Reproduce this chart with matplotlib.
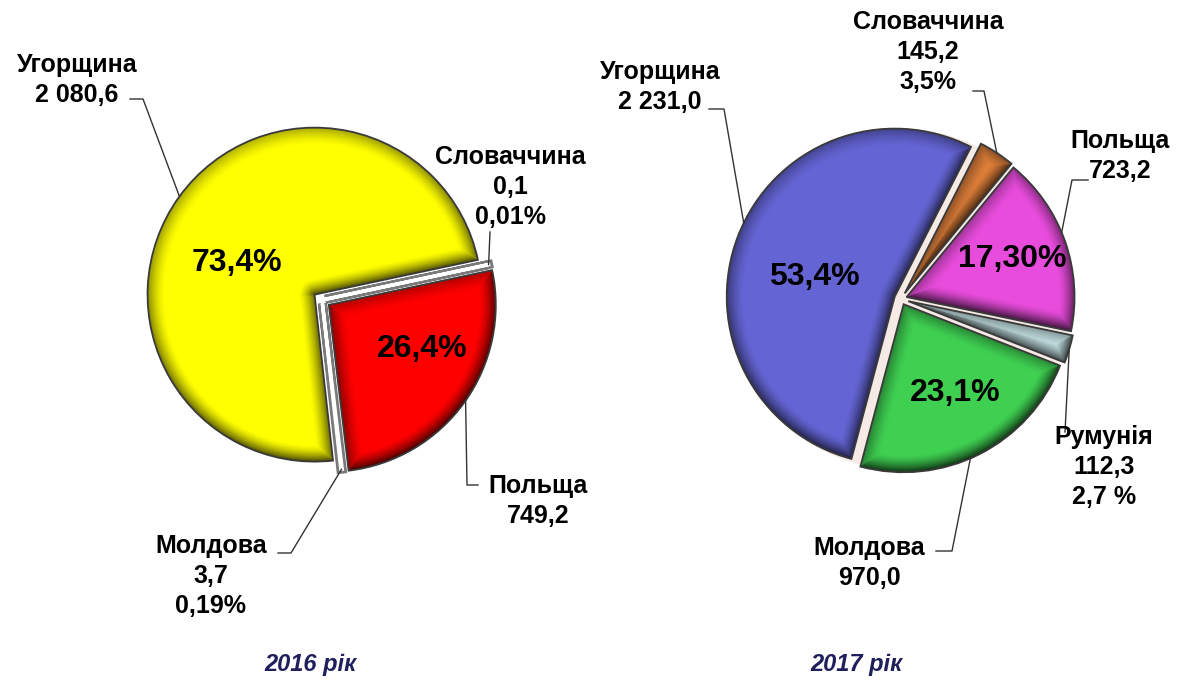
import numpy as np
import matplotlib
matplotlib.use('Agg')
import matplotlib.pyplot as plt
import matplotlib.patches as mpatches
import matplotlib.patheffects as pe
from matplotlib import font_manager

W, H = 1178, 680

# ---- data ----
years = ['2016 рік', '2017 рік']

names_2016 = ['Польща', 'Молдова', 'Угорщина', 'Словаччина']
values_2016 = [749.2, 3.7, 2080.6, 0.1]
shares_2016 = ['26,4%', '0,19%', '73,4%', '0,01%']
inside_2016 = [True, False, True, False]   # share printed inside the slice

names_2017 = ['Словаччина', 'Польща', 'Румунія', 'Молдова', 'Угорщина']
values_2017 = [145.2, 723.2, 112.3, 970.0, 2231.0]
shares_2017 = ['3,5%', '17,30%', '2,7 %', '23,1%', '53,4%']
inside_2017 = [False, True, False, True, True]

# ---- styles / layout (image pixel coords, y down) ----
colors_2016 = ['#FF0000', '#FFFFFF', '#FFFF00', '#FFFFFF']
colors_2017 = ['#E0803A', '#E84CDC', '#C8E6E8', '#3FD052', '#6464D4']
slivers_2016 = [False, True, False, True]

LABEL_FONT = 'Liberation Sans'
avail = {f.name for f in font_manager.fontManager.ttflist}
TITLE_FONT = 'Liberation Sans Narrow' if 'Liberation Sans Narrow' in avail else 'Liberation Sans'
TITLE_SIZE = 20 if TITLE_FONT == 'Liberation Sans Narrow' else 17
LIGHT = np.array([0.45, -0.9])   # edges facing this way get the darkest bevel


def img(x, y):
    return x, H - y


def fmt(v):
    return f'{v:,.1f}'.replace(',', ' ').replace('.', ',')


fig = plt.figure(figsize=(W / 100, H / 100), dpi=100)
ax = fig.add_axes([0, 0, 1, 1])


def bevel(w, depth=0.10, strength=0.75):
    """dark rim along the wedge outline, a cheap stand-in for the 3D bevel"""
    cx, cy = w.center
    r = w.r
    n = 400
    xs = np.linspace(cx - r, cx + r, n)
    ys = np.linspace(cy - r, cy + r, n)
    X, Y = np.meshgrid(xs, ys)
    vx, vy = X - cx, Y - cy
    rho = np.hypot(vx, vy) + 1e-9
    d = r - rho
    nx, ny = vx / rho, vy / rho
    t1, t2 = np.radians([w.theta1, w.theta2])
    for t, side in ((t1, -1), (t2, 1)):
        ux, uy = np.cos(t), np.sin(t)
        along = vx * ux + vy * uy
        perp = np.abs(vx * uy - vy * ux)
        de = np.where(along > 0, perp, rho)
        # outward normal of this straight edge
        ex, ey = -side * uy, side * ux
        closer = de < d
        nx = np.where(closer, ex, nx)
        ny = np.where(closer, ey, ny)
        d = np.minimum(d, de)
    face = np.clip(nx * LIGHT[0] + ny * LIGHT[1], -1, 1)
    k = 0.7 + 0.3 * face
    a = np.clip(1 - d / (depth * r), 0, 1) ** 1.5 * strength * k
    rgba = np.zeros((n, n, 4))
    rgba[..., 3] = a
    im = ax.imshow(rgba, extent=(cx - r, cx + r, cy - r, cy + r), origin='lower',
                   interpolation='bilinear', zorder=2)
    im.set_clip_path(w)


def rim(w, ang=None):
    if ang is None:
        ang = 0.5 * (w.theta1 + w.theta2)
    t = np.radians(ang)
    return w.center[0] + w.r * np.cos(t), w.center[1] + w.r * np.sin(t)


def draw_pie(names, values, shares, inside, colors, center, radius, start,
             explode, labels, inner_pos, slivers=None, backdrop=None):
    if backdrop:
        ax.add_patch(mpatches.Circle(img(*center), radius * 1.01, color=backdrop, zorder=0.5))
    wedges, _ = ax.pie(values, colors=colors, startangle=start, counterclock=False,
                       explode=[e * radius for e in explode], radius=radius,
                       center=img(*center), wedgeprops=dict(edgecolor='none'))
    for i, w in enumerate(wedges):
        if slivers is not None and slivers[i]:
            w.set_edgecolor('white')
            w.set_linewidth(2.5)
            w.set_zorder(3)
            w.set_path_effects([pe.Stroke(linewidth=6.5, foreground='#7a7a7a'), pe.Normal()])
            continue
        bevel(w)
        ax.add_patch(mpatches.Wedge(w.center, w.r, w.theta1, w.theta2, fill=False,
                                    edgecolor='#3a3a3a', linewidth=1.3, zorder=3))

    for i, w in enumerate(wedges):
        txt_pos, elbows, ang = labels[i]
        lines = [names[i], fmt(values[i])]
        if not inside[i]:
            lines.append(shares[i])
        ax.text(*img(*txt_pos), '\n'.join(lines), ha='center', va='center',
                multialignment='center', fontsize=18, fontweight='bold',
                family=LABEL_FONT, linespacing=1.33, zorder=5)
        pts = [rim(w, ang)] + [img(*p) for p in elbows]
        ax.plot([p[0] for p in pts], [p[1] for p in pts], color='#333333', lw=1, zorder=4)
        if inside[i]:
            ax.text(*img(*inner_pos[i]), shares[i], ha='center', va='center',
                    fontsize=23, fontweight='bold', family=LABEL_FONT, zorder=5)


labels_2016 = [
    ((538, 501), [(467, 485), (478, 485)], -35),
    ((211, 576), [(291, 553), (278, 553)], None),
    ((77, 80), [(143, 99), (130, 99)], 144),
    ((510, 187), [(490, 232)], None),
]
inner_2016 = [(422, 349), None, (237, 263), None]

labels_2017 = [
    ((928, 52), [(984, 91), (973, 91)], None),
    ((1120, 156), [(1072, 180), (1088, 180)], 22.6),
    ((1104, 467), [(1065, 432)], None),
    ((869, 563), [(952, 551), (936, 551)], -66.6),
    ((660, 87), [(724, 109), (709, 109)], 154),
]
inner_2017 = [None, (1012, 259), None, (955, 393), (814, 277)]

draw_pie(names_2016, values_2016, shares_2016, inside_2016, colors_2016,
         center=(322, 300), radius=167, start=12,
         explode=[0.05, 0.02, 0.055, 0.02], labels=labels_2016,
         inner_pos=inner_2016, slivers=slivers_2016)

draw_pie(names_2017, values_2017, shares_2017, inside_2017, colors_2017,
         center=(901, 299), radius=168, start=63,
         explode=[0.04, 0.035, 0.045, 0.035, 0.04], labels=labels_2017,
         inner_pos=inner_2017, backdrop='#F6EAE6')

for yr, x in zip(years, [310, 856]):
    ax.text(*img(x, 664), yr, ha='center', va='center', fontsize=TITLE_SIZE,
            fontweight='bold', fontstyle='italic', family=TITLE_FONT, color='#1F1F5C')

ax.set_xlim(0, W)
ax.set_ylim(0, H)
ax.set_aspect('equal')
ax.axis('off')

fig.savefig('out.png', dpi=100, facecolor='white')
